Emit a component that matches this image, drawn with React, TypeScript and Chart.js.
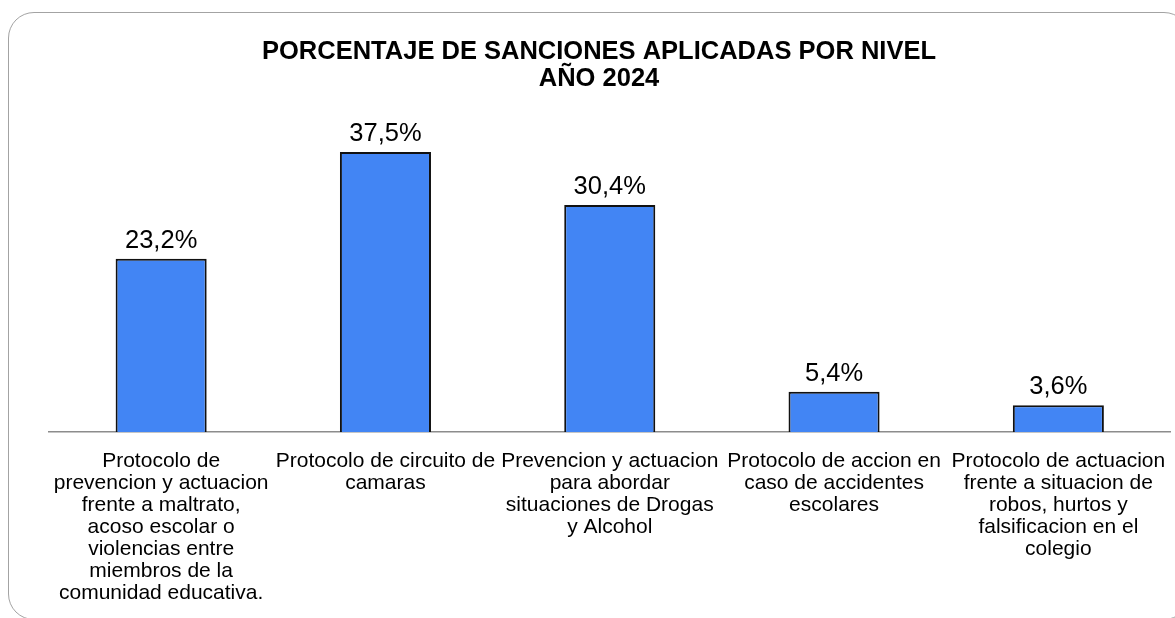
import React, { useEffect, useRef } from "react";
import { Chart, registerables } from "chart.js";

Chart.register(...registerables);

const titleLines: string[] = ["PORCENTAJE DE SANCIONES APLICADAS POR NIVEL", "AÑO 2024"];

const categories: string[][] = [
  ["Protocolo de", "prevencion y actuacion", "frente a maltrato,", "acoso escolar o", "violencias entre", "miembros de la", "comunidad educativa."],
  ["Protocolo de circuito de", "camaras"],
  ["Prevencion y actuacion", "para abordar", "situaciones de Drogas", "y Alcohol"],
  ["Protocolo de accion en", "caso de accidentes", "escolares"],
  ["Protocolo de actuacion", "frente a situacion de", "robos, hurtos y", "falsificacion en el", "colegio"],
];

const values: number[] = [23.2, 37.5, 30.4, 5.4, 3.6];

const FONT = "'Liberation Sans', Arial, sans-serif";

const valueLabels = {
  id: "valueLabels",
  afterDatasetsDraw(chart: any) {
    const ctx = chart.ctx;
    const meta = chart.getDatasetMeta(0);
    ctx.save();
    ctx.font = `25.5px ${FONT}`;
    ctx.fillStyle = "#000";
    ctx.textAlign = "center";
    ctx.textBaseline = "alphabetic";
    meta.data.forEach((bar: any, i: number) => {
      const txt = values[i].toFixed(1).replace(".", ",") + "%";
      ctx.fillText(txt, bar.x, bar.y - 11);
    });
    ctx.restore();
  },
};

export default function App() {
  const ref = useRef<HTMLCanvasElement | null>(null);

  useEffect(() => {
    document.body.style.margin = "0";
    if (!ref.current) return;
    const chart = new Chart(ref.current, {
      type: "bar",
      data: {
        labels: categories,
        datasets: [
          {
            data: values,
            backgroundColor: "#4285f4",
            borderColor: "#111",
            borderWidth: 2,
            categoryPercentage: 1,
            barPercentage: 0.406,
          },
        ],
      },
      options: {
        animation: false,
        responsive: false,
        maintainAspectRatio: false,
        layout: { padding: { left: 27.5, right: 4.5, top: 0, bottom: -4 } },
        plugins: {
          legend: { display: false },
          tooltip: { enabled: false },
          title: {
            display: true,
            text: titleLines,
            color: "#000",
            font: { family: FONT, size: 25.5, weight: "bold", lineHeight: 1.05 },
            padding: { top: 39, bottom: 11 },
          },
        },
        scales: {
          x: {
            grid: { display: false, drawTicks: false },
            border: { display: true, color: "#8c8c8c", width: 1.5 },
            ticks: {
              color: "#000",
              font: { family: FONT, size: 21, lineHeight: "22px" as any },
              padding: 18,
              maxRotation: 0,
              autoSkip: false,
            },
            afterFit: (s: any) => {
              s.paddingLeft = 0;
              s.paddingRight = 0;
            },
          },
          y: {
            display: true,
            min: 0,
            max: 44,
            grid: { display: false, drawTicks: false },
            border: { display: false },
            ticks: { display: false },
            afterFit: (s: any) => {
              s.width = 21.5;
            },
          },
        },
      },
      plugins: [valueLabels],
    });
    return () => chart.destroy();
  }, []);

  return (
    <div style={{ position: "relative", width: 1175, height: 618, overflow: "hidden", background: "#fff" }}>
      <div
        style={{
          position: "absolute",
          left: 8,
          top: 12,
          width: 1182,
          height: 608,
          border: "1.5px solid #a3a3a3",
          borderRadius: 26,
          boxSizing: "border-box",
        }}
      />
      <canvas ref={ref} width={1175} height={618} style={{ position: "absolute", left: 0, top: 0, display: "block" }} />
    </div>
  );
}
